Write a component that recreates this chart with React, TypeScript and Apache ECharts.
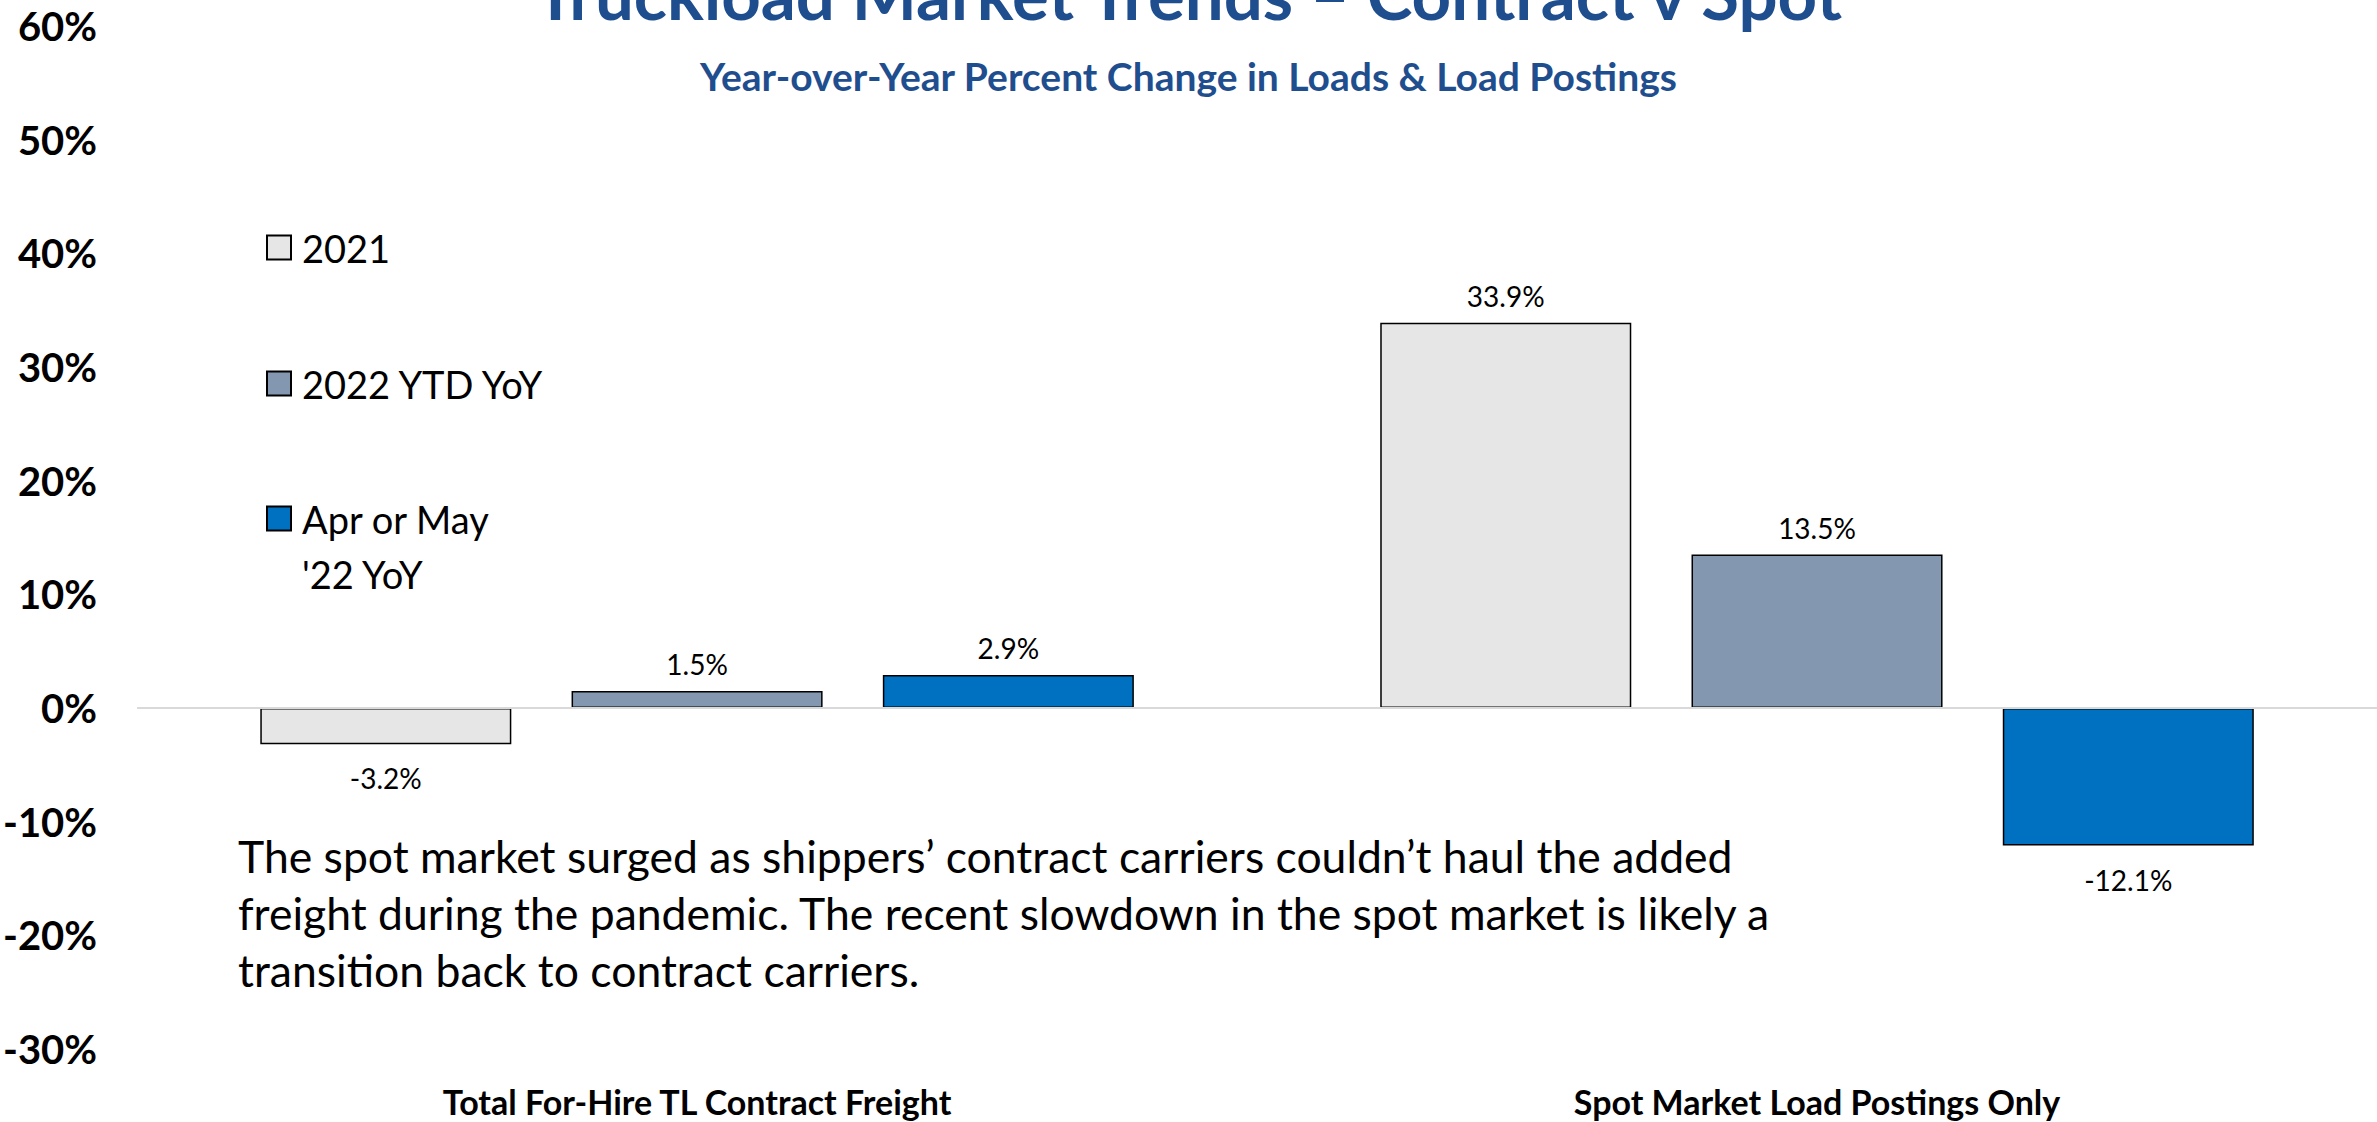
import React, { useEffect, useRef } from "react";
import * as echarts from "echarts";

// Categories and series values (percent YoY change)
const categories = ["Total For-Hire TL Contract Freight", "Spot Market Load Postings Only"];
const seriesNames = ["2021", "2022 YTD YoY", "Apr or May '22 YoY"];
const values2021 = [-3.2, 33.9];
const values2022Ytd = [1.5, 13.5];
const valuesAprMay = [2.9, -12.1];
const seriesColors = ["#e6e6e6", "#8497b0", "#0070c0"];

// Value axis range
const yMin = -30;
const yMax = 60;
const yStep = 10;

const titleText = "Truckload Market Trends \u2013 Contract v Spot";
const subtitleText = "Year-over-Year Percent Change in Loads & Load Postings";
const noteLines = [
  "The spot market surged as shippers\u2019 contract carriers couldn\u2019t haul the added",
  "freight during the pandemic. The recent slowdown in the spot market is likely a",
  "transition back to contract carriers.",
];

const FONT = "Lato, 'Open Sans', sans-serif";

function barData(values: number[]) {
  return values.map((v) => ({
    value: v,
    label: { position: v < 0 ? "bottom" : "top", distance: v < 0 ? 20 : 13 },
  }));
}

export default function App() {
  const ref = useRef<HTMLDivElement>(null);

  useEffect(() => {
    if (!ref.current) return;
    const chart = echarts.init(ref.current, undefined, { renderer: "svg" });

    const allValues = [values2021, values2022Ytd, valuesAprMay];

    const series = allValues.map((vals, i) => ({
      name: seriesNames[i],
      type: "bar",
      data: barData(vals),
      itemStyle: { color: seriesColors[i], borderColor: "#000", borderWidth: 1.5 },
      barGap: "24%",
      barCategoryGap: "22%",
      label: {
        show: true,
        color: "#000",
        fontFamily: FONT,
        fontSize: 28,
        formatter: (p: any) => `${Number(p.value).toFixed(1)}%`,
      },
      ...(i === 0
        ? {
            markLine: {
              silent: true,
              symbol: ["none", "none"],
              label: { show: false },
              lineStyle: { color: "#d9d9d9", width: 2, type: "solid" },
              data: [{ yAxis: 0 }],
            },
          }
        : {}),
    }));

    const legendText = { fontFamily: FONT, fontSize: 38, color: "#000", lineHeight: 55, padding: [0, 0, 0, 6] };
    const legendBase = {
      orient: "vertical",
      left: 266,
      padding: 0,
      itemWidth: 24,
      itemHeight: 24,
      icon: "rect",
      textStyle: legendText,
    };

    chart.setOption({
      animation: false,
      backgroundColor: "#ffffff",
      title: [
        {
          text: titleText,
          left: "center",
          top: -46,
          textStyle: { fontFamily: FONT, fontSize: 69, fontWeight: "bold", color: "#1f4e8f" },
        },
        {
          text: subtitleText,
          left: "center",
          top: 51,
          textStyle: { fontFamily: FONT, fontSize: 39, fontWeight: "bold", color: "#1f4e8f" },
        },
      ],
      legend: [
        { ...legendBase, top: 220, data: [seriesNames[0]] },
        { ...legendBase, top: 356, data: [seriesNames[1]] },
        {
          ...legendBase,
          top: 436,
          data: [seriesNames[2]],
          // blank first line keeps the marker level with "Apr or May"
          formatter: () => "\nApr or May\n'22 YoY",
        },
      ],
      grid: { left: 133, right: 0, top: 26, bottom: 73, containLabel: false },
      xAxis: {
        type: "category",
        data: categories,
        axisLine: { show: false, onZero: false },
        axisTick: { show: false },
        axisLabel: {
          margin: 35,
          color: "#000",
          fontFamily: FONT,
          fontSize: 34,
          fontWeight: "bold",
        },
      },
      yAxis: {
        type: "value",
        min: yMin,
        max: yMax,
        interval: yStep,
        splitLine: { show: false },
        axisLine: { show: false },
        axisTick: { show: false },
        axisLabel: {
          margin: 40,
          color: "#000",
          fontFamily: FONT,
          fontSize: 40,
          fontWeight: "bold",
          formatter: "{value}%",
        },
      },
      graphic: [
        {
          type: "text",
          left: 238,
          top: 827,
          style: {
            text: noteLines.join("\n"),
            font: `44.5px ${FONT}`,
            lineHeight: 57,
            fill: "#000",
          },
        },
      ],
      series,
    });

    return () => chart.dispose();
  }, []);

  return (
    <div
      ref={ref}
      style={{ position: "fixed", left: 0, top: 0, width: 2377, height: 1122, background: "#fff" }}
    />
  );
}
